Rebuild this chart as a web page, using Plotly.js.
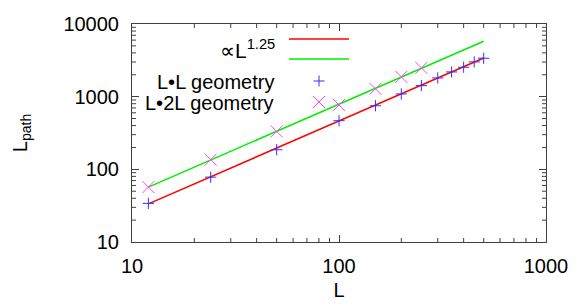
<!DOCTYPE html>
<html>
<head>
<meta charset="utf-8">
<script src="https://cdn.plot.ly/plotly-3.0.1.min.js"></script>
<style>html,body{margin:0;padding:0;background:#fff;}#chart{width:581px;height:305px;}</style>
</head>
<body>
<div id="chart"></div>
<script>
// Data
const L_LL = [12, 24, 50, 100, 150, 200, 250, 300, 350, 400, 450, 500];
const path_LL = [34, 78, 186, 467, 750, 1090, 1420, 1810, 2190, 2540, 3010, 3380];
const L_L2L = [12, 24, 50, 100, 150, 200, 250];
const path_L2L = [57, 136, 332, 770, 1280, 1870, 2490];
const fitL = [12, 500];
const fitRed = [33.5, 3400];
const fitGreen = [57, 5800];
const xTicks = [10, 100, 1000];
const yTicks = [10, 100, 1000, 10000];
const legendLabels = ['\u221dL<sup>1.25</sup>', 'L\u2022L geometry', 'L\u20222L geometry'];

function minorVals(lo, hi) {
  const v = [];
  for (let d = lo; d < hi; d *= 10) for (let k = 2; k <= 9; k++) v.push(d * k);
  return v;
}

const FONT = 'Liberation Sans, Arial, Helvetica, sans-serif';
const AX = '#404040';
const BLUE = '#3030ff';
const MAG = '#ff40ff';

const traces = [
  {x: fitL, y: fitRed, mode: 'lines', line: {color: '#ff0000', width: 1.5}, showlegend: false, hoverinfo: 'skip'},
  {x: fitL, y: fitGreen, mode: 'lines', line: {color: '#00ee00', width: 1.5}, showlegend: false, hoverinfo: 'skip'},
  {x: L_LL, y: path_LL, mode: 'markers', marker: {symbol: 'cross-thin-open', size: 8, color: BLUE, line: {color: BLUE, width: 1}}, showlegend: false},
  {x: L_L2L, y: path_L2L, mode: 'markers', marker: {symbol: 'x-thin-open', size: 12, color: MAG, line: {color: MAG, width: 1}}, showlegend: false}
];

// plot area in pixels: left 132, right 546, top 24, bottom 242
const px = v => (v - 132) / 414;
const py = v => (242 - v) / 218;
const W = 414, H = 218;

const axisCommon = {
  type: 'log',
  showline: true, linecolor: AX, linewidth: 1,
  mirror: 'allticks',
  ticks: 'inside', ticklen: 7, tickwidth: 1, tickcolor: AX,
  showgrid: false, zeroline: false,
  tickfont: {family: FONT, size: 20, color: '#000'},
  tickmode: 'array'
};

const shapes = [
  {type: 'line', xref: 'paper', yref: 'paper', x0: px(289), x1: px(349), y0: py(39), y1: py(39), line: {color: '#ff0000', width: 1.5}},
  {type: 'line', xref: 'paper', yref: 'paper', x0: px(289), x1: px(349), y0: py(59), y1: py(59), line: {color: '#00ee00', width: 1.5}},
  {type: 'line', xref: 'paper', yref: 'paper', x0: px(313.5), x1: px(324.5), y0: py(81), y1: py(81), line: {color: BLUE, width: 1}},
  {type: 'line', xref: 'paper', yref: 'paper', x0: px(319), x1: px(319), y0: py(75.5), y1: py(86.5), line: {color: BLUE, width: 1}},
  {type: 'line', xref: 'paper', yref: 'paper', x0: px(313), x1: px(325), y0: py(96), y1: py(108), line: {color: MAG, width: 1}},
  {type: 'line', xref: 'paper', yref: 'paper', x0: px(313), x1: px(325), y0: py(108), y1: py(96), line: {color: MAG, width: 1}}
];
// minor ticks (inside, on all four sides); paper fractions from the axis ranges
const xr = [1, 3], yr = [1, 4];
minorVals(10, 1000).forEach(v => {
  const fx = (Math.log10(v) - xr[0]) / (xr[1] - xr[0]);
  shapes.push({type: 'line', xref: 'paper', yref: 'paper', x0: fx, x1: fx, y0: 0, y1: 4 / H, line: {color: AX, width: 1}});
  shapes.push({type: 'line', xref: 'paper', yref: 'paper', x0: fx, x1: fx, y0: 1, y1: 1 - 4 / H, line: {color: AX, width: 1}});
});
minorVals(10, 10000).forEach(v => {
  const fy = (Math.log10(v) - yr[0]) / (yr[1] - yr[0]);
  shapes.push({type: 'line', xref: 'paper', yref: 'paper', y0: fy, y1: fy, x0: 0, x1: 4 / W, line: {color: AX, width: 1}});
  shapes.push({type: 'line', xref: 'paper', yref: 'paper', y0: fy, y1: fy, x0: 1, x1: 1 - 4 / W, line: {color: AX, width: 1}});
});

const layout = {
  width: 581, height: 305,
  margin: {l: 132, r: 35, t: 24, b: 63},
  paper_bgcolor: '#fff', plot_bgcolor: '#fff',
  font: {family: FONT, size: 20, color: '#000'},
  xaxis: Object.assign({}, axisCommon, {
    range: xr, tickvals: xTicks, ticktext: xTicks.map(String),
    ticklabelstandoff: 6,
    title: {text: 'L', font: {family: FONT, size: 20}, standoff: 6}
  }),
  yaxis: Object.assign({}, axisCommon, {
    range: yr, tickvals: yTicks, ticktext: yTicks.map(String),
    ticklabelstandoff: 8,
    title: {text: 'L<sub>path</sub>', font: {family: FONT, size: 20}, standoff: 30}
  }),
  annotations: [
    {xref: 'paper', yref: 'paper', x: px(277), y: py(49), xanchor: 'right', yanchor: 'middle', text: legendLabels[0], showarrow: false, font: {family: FONT, size: 21}},
    {xref: 'paper', yref: 'paper', x: px(276), y: py(82), xanchor: 'right', yanchor: 'middle', text: legendLabels[1], showarrow: false, font: {family: FONT, size: 20}},
    {xref: 'paper', yref: 'paper', x: px(276), y: py(103), xanchor: 'right', yanchor: 'middle', text: legendLabels[2], showarrow: false, font: {family: FONT, size: 20}}
  ],
  shapes: shapes,
  showlegend: false
};

Plotly.newPlot('chart', traces, layout, {staticPlot: true, displayModeBar: false});
</script>
</body>
</html>
